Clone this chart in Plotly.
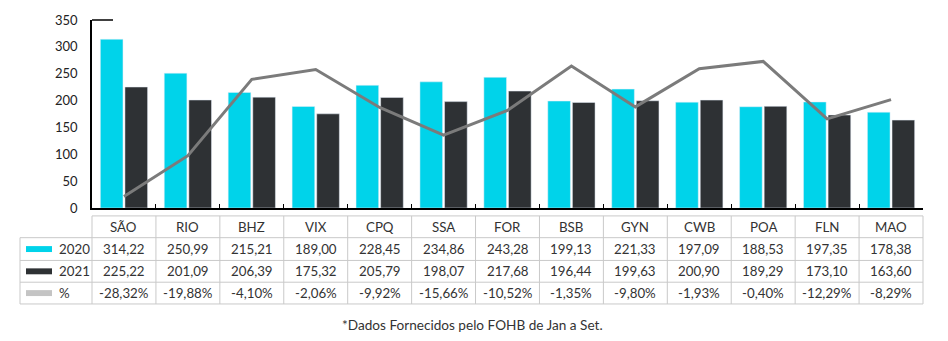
import plotly.graph_objects as go

# Data
cities = ["SÃO", "RIO", "BHZ", "VIX", "CPQ", "SSA", "FOR", "BSB", "GYN", "CWB", "POA", "FLN", "MAO"]
values_2020 = [314.22, 250.99, 215.21, 189.00, 228.45, 234.86, 243.28, 199.13, 221.33, 197.09, 188.53, 197.35, 178.38]
values_2021 = [225.22, 201.09, 206.39, 175.32, 205.79, 198.07, 217.68, 196.44, 199.63, 200.90, 189.29, 173.10, 163.60]
pct_change = [-28.32, -19.88, -4.10, -2.06, -9.92, -15.66, -10.52, -1.35, -9.80, -1.93, -0.40, -12.29, -8.29]
y_ticks = [0, 50, 100, 150, 200, 250, 300, 350]
footnote = "*Dados Fornecidos pelo FOHB de Jan a Set."

# Styling
W, H = 948, 341
PX_L, PX_R, PX_T, PX_B = 92, 923, 18, 208
C2020 = "#00d3ea"
C2021 = "#2e3134"
CLINE = "#7b7b7b"
CPCT_SWATCH = "#c4c4c4"
GRID = "#c9c9c9"
TXT = "#333333"
FONT = "Lato"


def px(x):
    return (x - PX_L) / (PX_R - PX_L)


def py(y):
    return (PX_B - y) / (PX_B - PX_T)


def fmt_num(v):
    return f"{v:.2f}".replace(".", ",")


def fmt_pct(v):
    return f"{v:.2f}%".replace(".", ",")


fig = go.Figure()
fig.add_trace(go.Bar(x=cities, y=values_2020, marker_color=C2020, name="2020", showlegend=False))
fig.add_trace(go.Bar(x=cities, y=values_2021, marker_color=C2021, name="2021", showlegend=False))
fig.add_trace(go.Scatter(x=cities, y=pct_change, mode="lines", yaxis="y2",
                         line=dict(color=CLINE, width=3), name="%", showlegend=False))

shapes = []
annotations = []

# short cap on top of the value axis
shapes.append(dict(type="line", xref="paper", yref="paper", x0=0, x1=px(113), y0=1, y1=1,
                   line=dict(color="black", width=1.5)))

# data table below the chart
n = len(cities)
row_lines = [216, 238, 261, 283, 305]
legend_left = 20
shapes.append(dict(type="line", xref="paper", yref="paper", x0=0, x1=1,
                   y0=py(row_lines[0]), y1=py(row_lines[0]), line=dict(color=GRID, width=1)))
for yl in row_lines[1:]:
    shapes.append(dict(type="line", xref="paper", yref="paper", x0=px(legend_left), x1=1,
                       y0=py(yl), y1=py(yl), line=dict(color=GRID, width=1)))
for i in range(n + 1):
    shapes.append(dict(type="line", xref="paper", yref="paper", x0=i / n, x1=i / n,
                       y0=py(row_lines[0]), y1=py(row_lines[-1]), line=dict(color=GRID, width=1)))
shapes.append(dict(type="line", xref="paper", yref="paper", x0=px(legend_left), x1=px(legend_left),
                   y0=py(row_lines[1]), y1=py(row_lines[-1]), line=dict(color=GRID, width=1)))

font = dict(family=FONT, size=13.3, color=TXT)
header_y = (row_lines[0] + row_lines[1]) / 2
for i, c in enumerate(cities):
    annotations.append(dict(text=c, xref="paper", yref="paper", x=(i + 0.5) / n, y=py(header_y),
                            showarrow=False, font=font, xanchor="center", yanchor="middle"))

rows = [
    ("2020", C2020, [fmt_num(v) for v in values_2020]),
    ("2021", C2021, [fmt_num(v) for v in values_2021]),
    ("%", CPCT_SWATCH, [fmt_pct(v) for v in pct_change]),
]
for r, (label, color, cells) in enumerate(rows):
    yc = (row_lines[r + 1] + row_lines[r + 2]) / 2
    shapes.append(dict(type="rect", xref="paper", yref="paper", x0=px(26), x1=px(52),
                       y0=py(yc - 3), y1=py(yc + 3), fillcolor=color, line=dict(width=0)))
    annotations.append(dict(text=label, xref="paper", yref="paper", x=px(57), y=py(yc),
                            showarrow=False, font=font, xanchor="left", yanchor="middle"))
    for i, txt in enumerate(cells):
        annotations.append(dict(text=txt, xref="paper", yref="paper", x=(i + 0.5) / n, y=py(yc),
                                showarrow=False, font=font, xanchor="center", yanchor="middle"))

annotations.append(dict(text=footnote, xref="paper", yref="paper", x=px(472), y=py(326),
                        showarrow=False, font=dict(family=FONT, size=13.6, color=TXT),
                        xanchor="center", yanchor="middle"))

fig.update_layout(
    width=W, height=H,
    margin=dict(l=PX_L, r=W - PX_R, t=PX_T, b=H - PX_B, pad=0),
    paper_bgcolor="white", plot_bgcolor="white",
    barmode="group", bargap=0.23, bargroupgap=0.08,
    font=dict(family=FONT, size=13, color=TXT),
    xaxis=dict(type="category", showline=True, linecolor="black", linewidth=1.5,
               ticks="inside", tickson="boundaries", ticklen=4, tickcolor="black", tickwidth=1,
               showticklabels=False, showgrid=False, zeroline=False),
    yaxis=dict(range=[0, 350], tickvals=y_ticks, showline=True, linecolor="black", linewidth=1.5,
               ticks="", showgrid=False, zeroline=False, ticklabelstandoff=10,
               tickfont=dict(family=FONT, size=13, color="#222222")),
    yaxis2=dict(overlaying="y", range=[-30.7, 8.16], visible=False),
    shapes=shapes,
    annotations=annotations,
)

fig.write_html("out.html")
